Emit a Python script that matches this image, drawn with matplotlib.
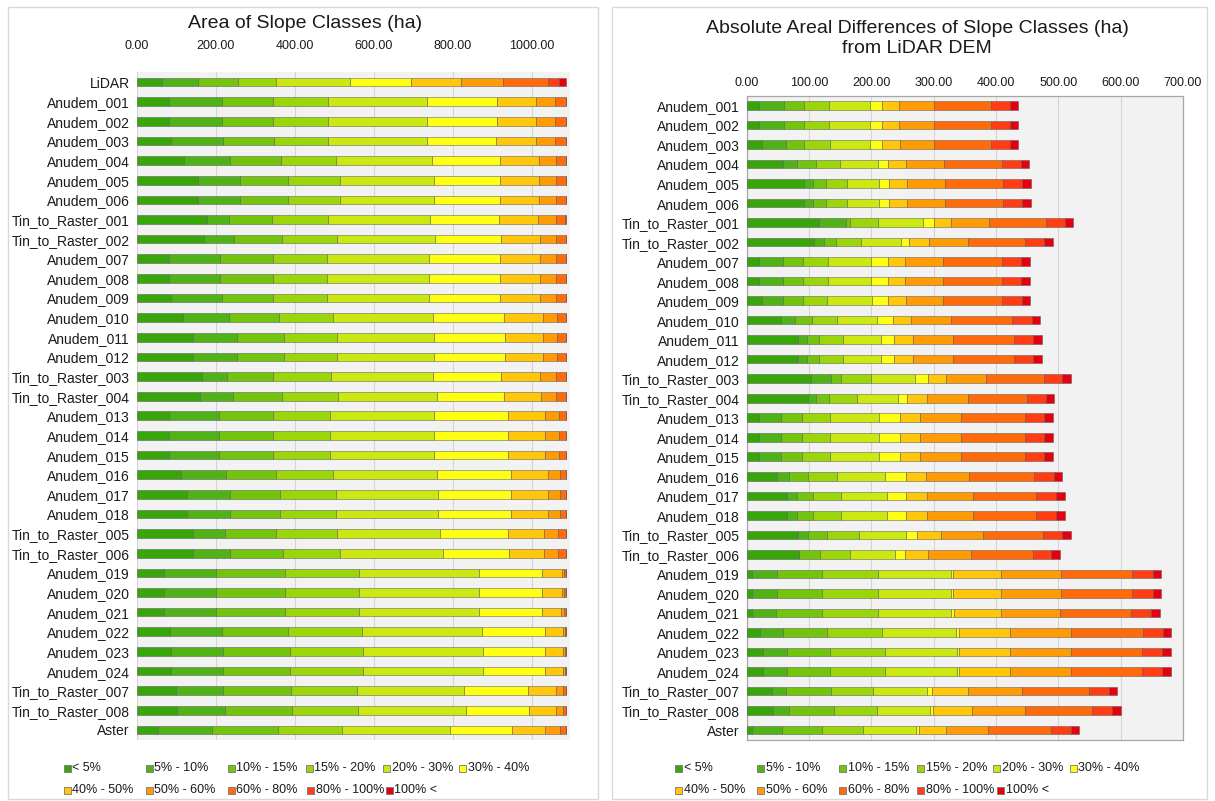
"""Slope class areas per DEM and their absolute differences from the LiDAR DEM."""

import numpy as np
import matplotlib
matplotlib.use("Agg")
import matplotlib.pyplot as plt
from matplotlib.patches import Rectangle
from matplotlib.ticker import FuncFormatter

plt.rcParams["font.family"] = ["Liberation Sans", "DejaVu Sans"]

W, H = 1215, 801

CLASSES = ["< 5%", "5% - 10%", "10% - 15%", "15% - 20%", "20% - 30%", "30% - 40%",
           "40% - 50%", "50% - 60%", "60% - 80%", "80% - 100%", "100% <"]
COLORS = ["#38a50a", "#4fb318", "#72c40c", "#9ad60a", "#cbe811", "#ffff14",
          "#ffc60a", "#ff9c05", "#ff6b0a", "#ff3c14", "#e6000f"]

# ---- left chart: area of each slope class (ha) ----
dem_names = ["LiDAR", "Anudem_001", "Anudem_002", "Anudem_003", "Anudem_004",
             "Anudem_005", "Anudem_006", "Tin_to_Raster_001", "Tin_to_Raster_002",
             "Anudem_007", "Anudem_008", "Anudem_009", "Anudem_010", "Anudem_011",
             "Anudem_012", "Tin_to_Raster_003", "Tin_to_Raster_004", "Anudem_013",
             "Anudem_014", "Anudem_015", "Anudem_016", "Anudem_017", "Anudem_018",
             "Tin_to_Raster_005", "Tin_to_Raster_006", "Anudem_019", "Anudem_020",
             "Anudem_021", "Anudem_022", "Anudem_023", "Anudem_024",
             "Tin_to_Raster_007", "Tin_to_Raster_008", "Aster"]

area_lt5 = [64.1, 81.9, 81.5, 86.9, 119.0, 154.4, 154.4, 178.9, 170.5, 81.9, 81.9, 86.9,
            116.5, 143.5, 143.5, 164.6, 160.3, 81.9, 81.9, 81.9, 111.4, 127.4, 127.4,
            143.5, 143.5, 70.0, 70.0, 68.4, 84.4, 87.8, 87.8, 100.4, 103.0, 53.2]
area_5_10 = [92.0, 133.3, 133.6, 130.8, 116.4, 107.2, 107.2, 54.9, 75.9, 129.1, 129.1, 128.3,
             117.3, 109.7, 109.7, 64.1, 84.4, 127.4, 127.4, 127.4, 113.9, 108.0, 108.0,
             79.3, 91.9, 130.0, 130.0, 131.6, 130.8, 131.6, 131.6, 117.3, 119.8, 137.5]
area_10_15 = [101.3, 130.8, 130.8, 130.8, 129.2, 122.4, 122.4, 109.7, 121.5, 135.0, 135.0, 130.8,
              127.4, 119.0, 119.0, 117.3, 123.2, 135.0, 135.0, 135.0, 127.4, 126.6, 126.6,
              129.9, 134.2, 174.7, 174.7, 174.7, 167.9, 167.9, 167.9, 173.9, 170.4, 166.3]
area_15_20 = [94.5, 138.4, 138.4, 135.9, 138.4, 129.9, 129.9, 141.7, 138.4, 135.0, 135.0, 135.0,
              136.7, 134.1, 134.1, 146.8, 141.0, 143.5, 143.5, 143.5, 145.2, 141.8, 141.8,
              153.6, 144.3, 187.3, 187.3, 187.3, 186.5, 185.7, 185.7, 165.4, 167.1, 162.8]
area_20_30 = [188.2, 250.6, 250.6, 250.6, 243.8, 238.0, 238.0, 255.7, 248.1, 258.2, 258.2, 258.2,
              251.5, 245.6, 245.6, 255.7, 250.6, 264.1, 264.1, 264.1, 261.6, 259.1, 259.1,
              259.9, 260.8, 303.0, 303.0, 303.0, 303.8, 302.9, 302.9, 270.0, 272.6, 271.8]
area_30_40 = [152.7, 177.2, 177.2, 174.7, 173.0, 167.9, 167.9, 174.7, 168.0, 180.6, 180.6, 180.6,
              178.9, 178.9, 178.9, 173.9, 168.8, 186.5, 186.5, 186.5, 187.3, 183.9, 183.9,
              172.2, 167.9, 160.3, 160.3, 160.3, 158.7, 156.2, 156.2, 162.9, 159.5, 158.6]
area_40_50 = [128.3, 98.8, 98.8, 101.3, 97.1, 97.1, 97.1, 98.7, 97.0, 99.6, 99.6, 99.6,
              99.5, 97.0, 97.0, 97.0, 94.5, 95.4, 95.4, 95.4, 92.9, 92.9, 92.9,
              91.1, 86.9, 49.7, 49.7, 49.0, 46.5, 47.0, 47.0, 70.0, 67.5, 83.6]
area_50_60 = [104.6, 48.1, 48.1, 48.1, 44.7, 44.7, 44.7, 45.6, 40.5, 42.2, 42.2, 42.2,
              35.5, 35.5, 35.5, 40.5, 37.1, 33.7, 33.7, 33.7, 32.0, 32.0, 32.0,
              35.5, 36.3, 7.0, 7.0, 6.7, 4.0, 4.0, 4.0, 18.6, 18.6, 36.2]
area_60_80 = [114.0, 27.8, 27.8, 27.8, 25.3, 25.3, 25.3, 24.5, 27.0, 25.3, 25.3, 25.3,
              23.6, 23.6, 23.6, 27.0, 27.0, 19.4, 19.4, 19.4, 15.2, 15.2, 15.2,
              21.9, 21.1, 4.5, 4.5, 5.5, 3.5, 3.5, 3.5, 8.4, 8.4, 16.9]
area_80_100 = [29.5, 0.3, 0.3, 0.3, 0.3, 0.3, 0.3, 2.4, 0.3, 0.3, 0.3, 0.3,
               0.3, 0.3, 0.3, 0.3, 0.3, 0.3, 0.3, 0.3, 0.3, 0.3, 0.3,
               0.3, 0.3, 0.3, 0.3, 0.3, 0.3, 0.3, 0.3, 0.3, 0.3, 0.3]
area_gt100 = [17.8, 0.1, 0.1, 0.1, 0.1, 0.1, 0.1, 0.2, 0.1, 0.1, 0.1, 0.1,
              0.1, 0.1, 0.1, 0.1, 0.1, 0.1, 0.1, 0.1, 0.1, 0.1, 0.1,
              0.1, 0.1, 0.1, 0.1, 0.1, 0.1, 0.1, 0.1, 0.1, 0.1, 0.1]

# ---- right chart: absolute difference from LiDAR (ha) ----
diff_names = dem_names[1:]

diff_lt5 = [19.8, 19.8, 25.1, 58.8, 92.4, 92.4, 116.5, 108.4, 19.8, 19.8, 25.1, 55.0,
            82.8, 82.8, 102.6, 98.8, 19.8, 19.8, 19.8, 48.1, 64.1, 64.1, 81.7, 83.9,
            9.1, 9.1, 8.0, 21.4, 26.7, 26.7, 40.1, 42.7, 8.0]
diff_5_10 = [39.5, 39.5, 37.9, 21.3, 14.4, 14.4, 42.7, 15.5, 37.9, 37.9, 32.6, 22.5,
             13.4, 13.4, 32.0, 12.3, 35.2, 35.2, 35.2, 20.3, 17.1, 17.1, 17.1, 0.5,
             39.0, 39.0, 38.5, 37.4, 37.4, 37.4, 22.4, 25.7, 48.1]
diff_10_15 = [32.0, 32.0, 28.3, 31.0, 20.3, 20.3, 6.9, 18.7, 32.0, 32.0, 32.0, 27.7,
              20.3, 20.3, 16.0, 20.8, 33.1, 33.1, 33.1, 29.4, 25.6, 25.6, 30.5, 33.1,
              72.1, 72.1, 73.7, 70.5, 69.4, 69.4, 72.6, 71.6, 64.1]
diff_15_20 = [40.1, 40.1, 42.2, 37.9, 34.2, 34.2, 44.9, 40.6, 40.6, 40.6, 39.0, 39.0,
              37.3, 37.3, 48.7, 44.4, 45.4, 45.4, 45.4, 47.5, 43.8, 43.8, 51.3, 48.1,
              89.7, 89.7, 89.7, 87.0, 88.2, 88.2, 67.9, 68.3, 65.7]
diff_20_30 = [66.2, 66.2, 64.1, 60.9, 51.3, 51.3, 72.1, 64.1, 69.0, 69.0, 72.6, 65.2,
              60.9, 60.9, 71.5, 65.7, 79.1, 79.1, 79.1, 76.9, 74.5, 74.5, 74.7, 72.6,
              117.6, 117.6, 118.6, 119.2, 115.9, 115.9, 86.5, 85.5, 86.5]
diff_30_40 = [19.8, 19.8, 19.8, 17.1, 16.0, 16.0, 18.2, 13.4, 26.7, 26.7, 24.7, 25.6,
              21.9, 21.9, 20.3, 15.5, 33.1, 33.1, 33.1, 32.6, 30.5, 30.5, 18.7, 15.5,
              3.7, 3.7, 3.8, 4.8, 2.7, 2.7, 7.0, 5.3, 3.8]
diff_40_50 = [27.3, 27.3, 28.3, 28.3, 28.9, 28.9, 27.2, 31.0, 27.7, 27.7, 29.3, 28.4,
              31.0, 31.0, 29.4, 32.0, 32.6, 32.6, 32.6, 32.1, 33.9, 33.9, 37.4, 37.4,
              77.5, 77.5, 75.3, 82.8, 82.8, 82.8, 58.7, 62.5, 43.2]
diff_50_60 = [56.0, 56.0, 55.0, 60.9, 60.9, 60.9, 60.4, 64.1, 60.9, 60.9, 59.3, 64.1,
              63.6, 63.6, 64.1, 66.3, 66.3, 66.3, 66.3, 69.9, 73.7, 73.7, 67.9, 69.4,
              95.0, 95.0, 94.5, 96.7, 96.7, 96.7, 87.1, 84.4, 67.9]
diff_60_80 = [90.9, 90.9, 90.9, 93.0, 92.9, 92.9, 90.8, 90.8, 94.6, 94.6, 94.6, 98.1,
              97.8, 97.8, 91.9, 94.0, 101.4, 101.4, 101.4, 104.2, 101.5, 101.5, 96.1, 98.8,
              114.9, 114.9, 114.9, 115.9, 114.3, 114.3, 106.8, 108.5, 101.5]
diff_80_100 = [30.4, 30.4, 30.4, 30.4, 29.9, 29.9, 31.0, 29.9, 30.4, 30.4, 32.0, 31.7,
               30.4, 30.4, 29.9, 29.9, 31.0, 31.0, 31.0, 32.1, 32.1, 32.1, 31.0, 29.4,
               33.1, 33.1, 32.0, 32.0, 32.6, 32.6, 32.1, 32.0, 31.0]
diff_gt100 = [13.4, 13.4, 13.4, 12.9, 14.5, 14.5, 12.8, 15.0, 14.5, 14.5, 12.9, 13.9,
              15.0, 15.0, 13.4, 12.8, 14.5, 14.5, 14.5, 13.3, 13.3, 13.3, 13.4, 13.4,
              13.4, 13.4, 13.4, 13.4, 14.4, 14.4, 13.4, 13.4, 13.3]

area_series = [area_lt5, area_5_10, area_10_15, area_15_20, area_20_30, area_30_40,
               area_40_50, area_50_60, area_60_80, area_80_100, area_gt100]
diff_series = [diff_lt5, diff_5_10, diff_10_15, diff_15_20, diff_20_30, diff_30_40,
               diff_40_50, diff_50_60, diff_60_80, diff_80_100, diff_gt100]

EDGE = (0.35, 0.35, 0.35, 0.6)
GRID = "#d4d4d4"
PLOT_BG = "#f2f2f2"


def px_axes(x0, y0, x1, y1):
    """Axes placed by pixel box (left, top, right, bottom) of the output image."""
    return fig.add_axes([x0 / W, 1 - y1 / H, (x1 - x0) / W, (y1 - y0) / H])


def stacked_bars(ax, names, series, xmax, step, label_pad):
    y = np.arange(len(names))
    left = np.zeros(len(names))
    for vals, color in zip(series, COLORS):
        vals = np.asarray(vals)
        ax.barh(y, vals, left=left, height=0.44, color=color,
                edgecolor=EDGE, linewidth=0.6, zorder=3)
        left += vals
    ax.set_facecolor(PLOT_BG)
    ax.set_xlim(0, xmax)
    ax.set_ylim(len(names) - 0.5, -0.5)
    ax.set_yticks(y)
    ax.set_yticklabels(names, fontsize=10, color="#1a1a1a")
    ax.set_xticks(np.arange(0, xmax + 1, step))
    ax.xaxis.set_major_formatter(FuncFormatter(lambda v, _: f"{v:.2f}"))
    ax.xaxis.tick_top()
    ax.tick_params(axis="x", length=0, labelsize=9, pad=label_pad, colors="#1a1a1a")
    ax.tick_params(axis="y", length=0, pad=5)
    ax.grid(axis="x", color=GRID, linewidth=0.8, zorder=0)
    ax.set_axisbelow(True)


def slope_legend(x_offset):
    row1 = [67, 149, 231, 309, 386, 462]
    row2 = [67, 149, 231, 310, 389]
    spots = [(x, 768) for x in row1] + [(x, 790) for x in row2]
    s = 7
    for (x, y), label, color in zip(spots, CLASSES, COLORS):
        x += x_offset
        fig.add_artist(Rectangle(((x - s / 2) / W, 1 - (y + s / 2) / H), s / W, s / H,
                                 transform=fig.transFigure, facecolor=color,
                                 edgecolor="#777777", linewidth=0.6))
        fig.text((x + s / 2 + 2) / W, 1 - y / H, label, fontsize=9,
                 va="center", ha="left", color="#1a1a1a")


fig = plt.figure(figsize=(W / 100, H / 100), dpi=100, facecolor="white")

# panel frames
for x0, x1 in [(8, 598), (612, 1207)]:
    fig.add_artist(Rectangle((x0 / W, 1 - 799 / H), (x1 - x0) / W, (799 - 7) / H,
                             transform=fig.transFigure, fill=False,
                             edgecolor="#d9d9d9", linewidth=1.0))

ax_area = px_axes(136.7, 72.2, 569.5, 739.8)
stacked_bars(ax_area, dem_names, area_series, 1095, 200, 14.5)
for sp in ax_area.spines.values():
    sp.set_visible(False)

ax_diff = px_axes(746.7, 95.7, 1183, 739.8)
stacked_bars(ax_diff, diff_names, diff_series, 700, 100, 4.5)
for sp in ax_diff.spines.values():
    sp.set_color("#a6a6a6")
    sp.set_linewidth(0.9)

fig.text(305 / W, 1 - 23 / H, "Area of Slope Classes (ha)", fontsize=14,
         ha="center", va="center", color="#1a1a1a")
fig.text(917 / W, 1 - 38.5 / H, "Absolute Areal Differences of Slope Classes (ha)\nfrom LiDAR DEM",
         fontsize=14, ha="center", va="center", linespacing=1.2, color="#1a1a1a")

slope_legend(0)
slope_legend(611)

fig.savefig("out.png", dpi=100)
